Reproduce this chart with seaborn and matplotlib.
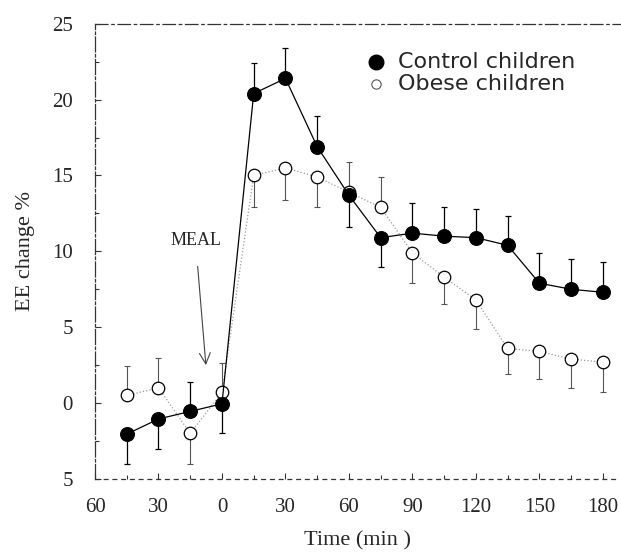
import numpy as np
import pandas as pd
from matplotlib import pyplot as plt
from matplotlib.ticker import FixedLocator, FixedFormatter, MultipleLocator
import seaborn as sns

# minutes relative to the meal
time_min = [-45, -30, -15, 0, 15, 30, 45, 60, 75, 90, 105, 120, 135, 150, 165, 180]

control = [-2.05, -1.05, -0.55, -0.05, 20.4, 21.4, 16.9, 13.7, 10.9, 11.2, 11.0, 10.9, 10.4, 7.9, 7.5, 7.3]
control_lo = [1.95, 1.95, 0, 1.95, 0, 0, 0, 2.1, 1.9, 0, 0, 0, 0, 0, 0, 0]
control_hi = [0, 0, 1.95, 0, 2.0, 2.0, 2.0, 0, 0, 2.0, 1.9, 1.9, 1.9, 2.0, 2.0, 2.0]

obese = [0.5, 1.0, -2.0, 0.7, 15.0, 15.5, 14.9, 13.9, 12.9, 9.9, 8.3, 6.8, 3.6, 3.4, 2.9, 2.7]
obese_lo = [0, 0, 2.0, 0, 2.1, 2.1, 2.0, 0, 0, 2.0, 1.8, 1.9, 1.7, 1.8, 1.9, 2.0]
obese_hi = [1.95, 1.95, 0, 1.95, 0, 0, 0, 2.0, 2.0, 0, 0, 0, 0, 0, 0, 0]

x_ticks = [-60, -30, 0, 30, 60, 90, 120, 150, 180]
x_labels = ["60", "30", "0", "30", "60", "90", "120", "150", "180"]
y_ticks = [-5, 0, 5, 10, 15, 20, 25]
y_labels = ["5", "0", "5", "10", "15", "20", "25"]

df = pd.DataFrame({"time": time_min, "control": control, "obese": obese})

sns.set_theme(style="ticks")
plt.rcParams["font.family"] = ["Liberation Serif", "DejaVu Serif"]

fig = plt.figure(figsize=(6.21, 5.53), dpi=100)
ax = fig.add_axes([0.153, 0.134, 0.845, 0.823])

# obese children: light dotted line, open circles
ax.errorbar(time_min, obese, yerr=[obese_lo, obese_hi], fmt="none",
            ecolor="#555555", elinewidth=0.8, capsize=2.5, capthick=0.8,
            linestyle=":", zorder=2)
sns.lineplot(data=df, x="time", y="obese", ax=ax, color="#999999",
             linestyle=":", linewidth=0.9, marker="o", markersize=9,
             markerfacecolor="white", markeredgecolor="black",
             markeredgewidth=0.9, zorder=3)

# control children: solid line, filled circles
ax.errorbar(time_min, control, yerr=[control_lo, control_hi], fmt="none",
            ecolor="black", elinewidth=0.9, capsize=2.5, capthick=0.9, zorder=4)
sns.lineplot(data=df, x="time", y="control", ax=ax, color="black",
             linewidth=0.9, marker="o", markersize=10,
             markerfacecolor="black", markeredgecolor="black", zorder=5)

# legend drawn as text with markers
ax.scatter([73], [22.5], s=110, color="black", zorder=6)
ax.scatter([73], [21.05], s=45, facecolor="white", edgecolor="#555555",
           linewidth=0.8, zorder=6)
ax.text(83, 22.5, "Control children", family=["DejaVu Sans"], fontsize=16,
        va="center", ha="left")
ax.text(83, 21.05, "Obese children", family=["DejaVu Sans"], fontsize=16,
        va="center", ha="left")

# meal arrow
ax.annotate("MEAL", xy=(-7.6, 2.5), xytext=(-12.5, 10.7), fontsize=13,
            ha="center", va="center",
            arrowprops=dict(arrowstyle="->,head_length=0.6,head_width=0.3",
                            color="#444444", lw=0.8, shrinkA=10, shrinkB=0))

ax.set_xlim(-60, 188)
ax.set_ylim(-5, 25)
ax.xaxis.set_major_locator(FixedLocator(x_ticks))
ax.xaxis.set_major_formatter(FixedFormatter(x_labels))
ax.xaxis.set_minor_locator(MultipleLocator(15))
ax.yaxis.set_major_locator(FixedLocator(y_ticks))
ax.yaxis.set_major_formatter(FixedFormatter(y_labels))
ax.yaxis.set_minor_locator(MultipleLocator(2.5))
ax.tick_params(axis="both", which="both", direction="in", labelsize=15,
               width=0.8, length=4, color="#333333")
ax.tick_params(axis="both", which="minor", length=3)
ax.tick_params(axis="x", pad=14)
ax.tick_params(axis="y", pad=16)

ax.set_xlabel("Time (min )", fontsize=16, labelpad=10)
ax.set_ylabel("EE change %", fontsize=16, labelpad=12)

ax.spines["right"].set_visible(False)
ax.spines["top"].set_linestyle((0, (10, 3, 2, 3)))
ax.spines["bottom"].set_linestyle((0, (3, 4)))
ax.spines["left"].set_linestyle((0, (12, 2, 2, 2)))
for s in ["top", "bottom", "left"]:
    ax.spines[s].set_color("#333333")
    ax.spines[s].set_linewidth(0.9)

plt.savefig("out.png", dpi=100)
